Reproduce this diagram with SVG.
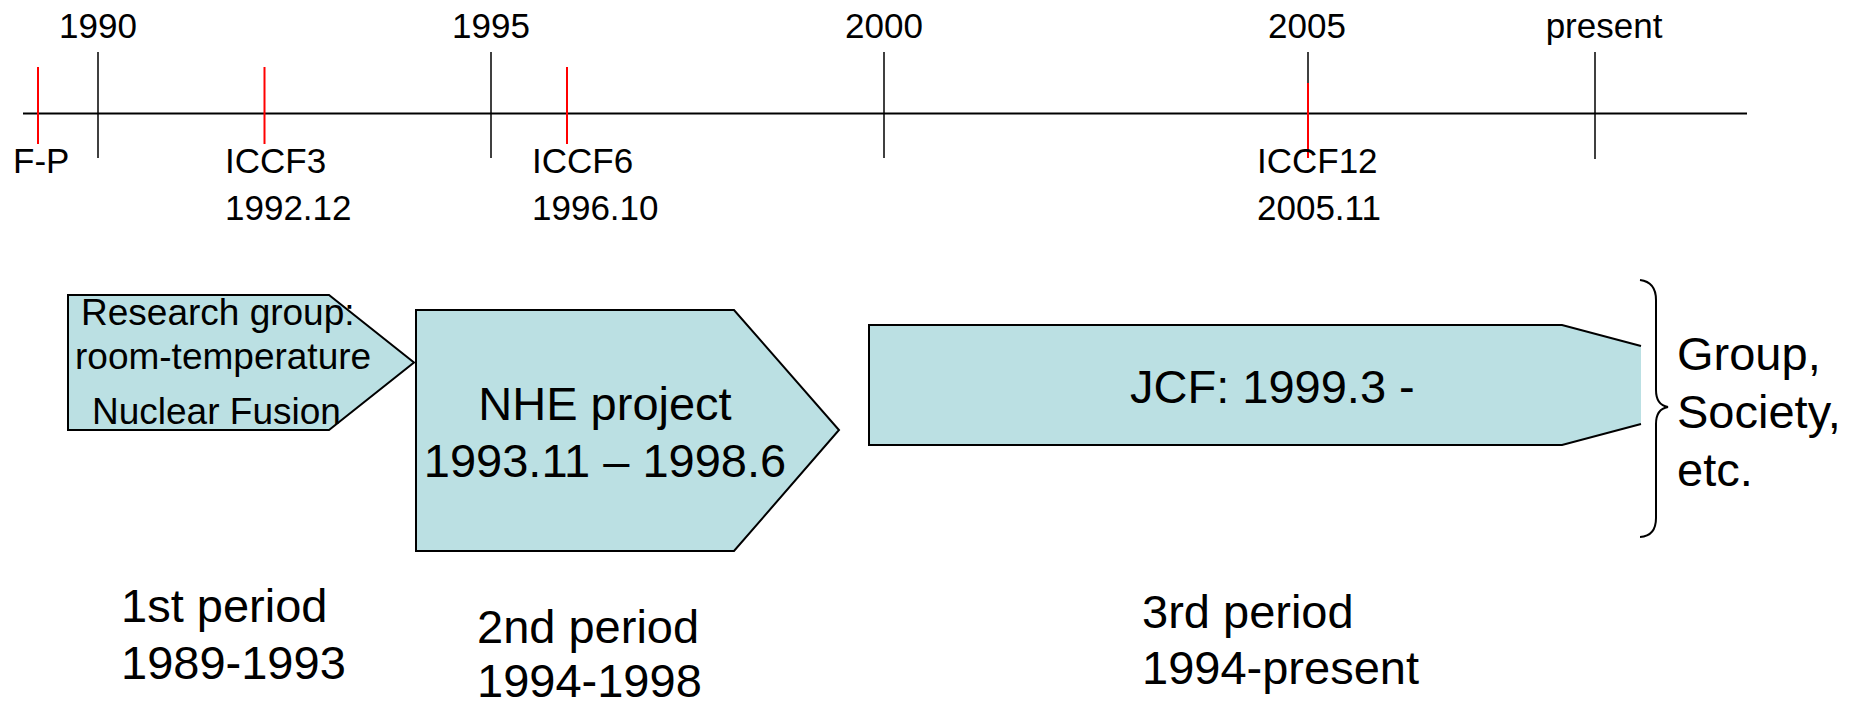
<svg xmlns="http://www.w3.org/2000/svg" width="1858" height="701" viewBox="0 0 1858 701">
<style>
text{font-family:"Liberation Sans",Arial,sans-serif;fill:#000}
.yr{font-size:35px;text-anchor:middle}
.ev{font-size:35px}
.sm{font-size:37px}
.big{font-size:47px}
.mid{text-anchor:middle}
.shape{fill:#BBE0E3;stroke:#000;stroke-width:2}
.tick{stroke:#000;stroke-width:1.5}
.red{stroke:#FF0000;stroke-width:2}
</style>
<rect width="1858" height="701" fill="#fff"/>
<g id="timeline">
<line x1="23" y1="113.5" x2="1747" y2="113.5" stroke="#000" stroke-width="2.2"/>
<line class="tick" x1="98" y1="52" x2="98" y2="158"/>
<line class="tick" x1="491" y1="52" x2="491" y2="158"/>
<line class="tick" x1="884" y1="52" x2="884" y2="158"/>
<line class="tick" x1="1308" y1="52" x2="1308" y2="84"/>
<line class="tick" x1="1595" y1="52" x2="1595" y2="159"/>
<line class="red" x1="38" y1="67" x2="38" y2="144"/>
<line class="red" x1="264.5" y1="67" x2="264.5" y2="144"/>
<line class="red" x1="567" y1="67" x2="567" y2="144"/>
<line class="red" x1="1308" y1="83" x2="1308" y2="158"/>
<text class="yr" x="98" y="38">1990</text>
<text class="yr" x="491" y="38">1995</text>
<text class="yr" x="884" y="38">2000</text>
<text class="yr" x="1307" y="38">2005</text>
<text class="yr" x="1604" y="38">present</text>
<text class="ev" x="13" y="173">F-P</text>
<text class="ev" x="225" y="173">ICCF3</text>
<text class="ev" x="225" y="220">1992.12</text>
<text class="ev" x="532" y="173">ICCF6</text>
<text class="ev" x="532" y="220">1996.10</text>
<text class="ev" x="1257" y="173">ICCF12</text>
<text class="ev" x="1257" y="220">2005.11</text>
</g>
<g id="node-research">
<polygon class="shape" points="68,295 329,295 414,362.5 329,430 68,430"/>
<text class="sm" x="81" y="325">Research group:</text>
<text class="sm" x="75" y="369">room-temperature</text>
<text class="sm" x="92" y="424">Nuclear Fusion</text>
</g>
<g id="node-nhe">
<polygon class="shape" points="416,310 734,310 839,430 734,551 416,551"/>
<text class="big mid" x="605" y="420">NHE project</text>
<text class="big mid" x="605" y="477">1993.11 – 1998.6</text>
</g>
<g id="node-jcf">
<polygon points="869,325 1562,325 1641,346 1641,424 1562,445 869,445" fill="#BBE0E3"/>
<polyline points="1641,346 1562,325 869,325 869,445 1562,445 1641,424" fill="none" stroke="#000" stroke-width="2"/>
<text class="big" x="1130" y="403">JCF: 1999.3 -</text>
</g>
<g id="node-group">
<path d="M1640,280 Q1656,282 1656,300 L1656,390 Q1656,405 1668,407 Q1656,409 1656,424 L1656,518 Q1656,536 1640,537" fill="none" stroke="#000" stroke-width="2"/>
<text class="big" x="1677" y="370">Group,</text>
<text class="big" x="1677" y="428">Society,</text>
<text class="big" x="1677" y="486">etc.</text>
</g>
<g id="periods">
<text class="big" x="121" y="622">1st period</text>
<text class="big" x="121" y="679">1989-1993</text>
<text class="big" x="477" y="643">2nd period</text>
<text class="big" x="477" y="697">1994-1998</text>
<text class="big" x="1142" y="628">3rd period</text>
<text class="big" x="1142" y="684">1994-present</text>
</g>
</svg>
